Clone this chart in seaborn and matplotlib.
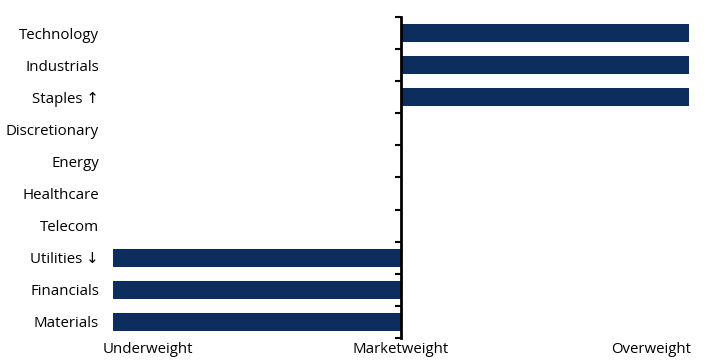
import matplotlib
matplotlib.use("Agg")
import matplotlib.pyplot as plt
import seaborn as sns
import pandas as pd

sectors = ["Technology", "Industrials", "Staples \u2191", "Discretionary", "Energy",
           "Healthcare", "Telecom", "Utilities \u2193", "Financials", "Materials"]
positions = [1, 1, 1, 0, 0, 0, 0, -1, -1, -1]
x_tick_values = [-0.88, 0, 0.87]
x_tick_labels = ["Underweight", "Marketweight", "Overweight"]

sns.set_theme(style="white")
plt.rcParams["font.family"] = ["Open Sans", "DejaVu Sans"]

df = pd.DataFrame({"sector": sectors, "position": positions})

fig = plt.figure(figsize=(7.17, 3.61), dpi=100)
ax = fig.add_axes([113 / 717, 23 / 361, 576 / 717, 321 / 361])

sns.barplot(data=df, x="position", y="sector", order=sectors, orient="h",
            color="#0c2d5e", saturation=1, width=0.55, linewidth=0, ax=ax)

ax.set_xlim(-1, 1)
ax.set_ylim(len(sectors) - 0.5, -0.5)
for s in ax.spines.values():
    s.set_visible(False)

ax.set_xlabel("")
ax.set_ylabel("")
ax.set_xticks(x_tick_values)
ax.set_xticklabels(x_tick_labels)
ax.tick_params(axis="x", length=0, pad=3, labelsize=10.8, colors="black")
ax.tick_params(axis="y", length=0, pad=10, labelsize=10.8, colors="black")

# centre axis with boundary ticks
sec = ax.secondary_yaxis(0.5)
sec.set_zorder(5)
sec.yaxis.set_ticks_position("left")
sec.set_yticks([i - 0.5 for i in range(len(sectors) + 1)])
sec.set_yticklabels([])
for name, s in sec.spines.items():
    s.set_visible(name == "left")
sec.spines["left"].set_linewidth(2)
sec.spines["left"].set_color("black")
sec.tick_params(axis="y", which="both", left=True, right=False, length=4,
                width=1.5, direction="out", colors="black")

fig.savefig("out.png", dpi=100)
